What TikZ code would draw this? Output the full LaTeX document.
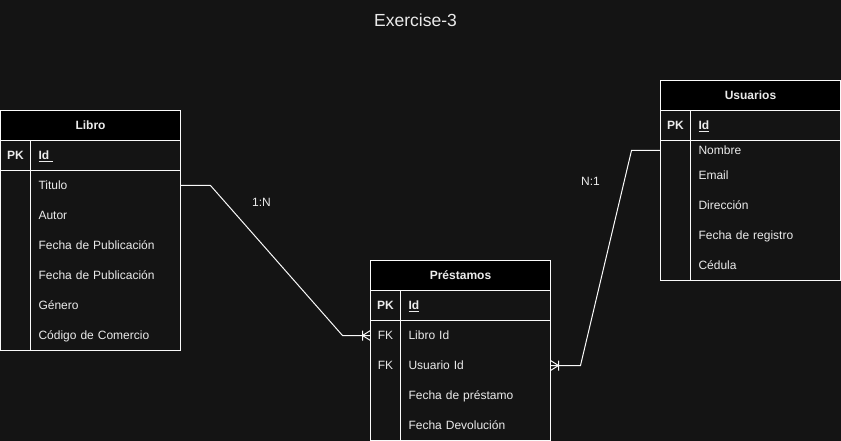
\documentclass[tikz,border=0pt]{standalone}
\usepackage{fontspec}
\setmainfont{Liberation Sans}
\usetikzlibrary{positioning}

% crow's foot tip (one or many)
\pgfdeclarearrow{
  name = Crow,
  setup code = {
    \pgfarrowssettipend{0pt}
    \pgfarrowssetlineend{0pt}
    \pgfarrowssetvisualbackend{-8pt}
    \pgfarrowssetbackend{-8.5pt}
    \pgfarrowsupperhullpoint{0pt}{5pt}
    \pgfarrowsupperhullpoint{-8.5pt}{5pt}
  },
  drawing code = {
    \pgfpathmoveto{\pgfqpoint{0pt}{5pt}}
    \pgfpathlineto{\pgfqpoint{-8pt}{0pt}}
    \pgfpathlineto{\pgfqpoint{0pt}{-5pt}}
    \pgfpathmoveto{\pgfqpoint{-8pt}{5pt}}
    \pgfpathlineto{\pgfqpoint{-8pt}{-5pt}}
    \pgfusepathqstroke
  }
}

\definecolor{bg}{RGB}{20,20,20}
\definecolor{fg}{RGB}{235,235,235}
\definecolor{edge}{RGB}{250,250,250}

\begin{document}
\begin{tikzpicture}[x=1pt, y=-1pt, line width=1pt,
  every node/.style={font=\fontsize{12}{14}\selectfont, text=fg, outer sep=0pt},
  head/.style={draw=edge, fill=black, minimum width=180pt, minimum height=30pt,
    inner sep=0pt, text height=8.6pt, text depth=0pt,
    font=\fontsize{12}{14}\selectfont\bfseries},
  keycell/.style={minimum width=30pt, minimum height=30pt, inner sep=0pt,
    text height=8.6pt, text depth=0pt},
  field/.style={minimum height=30pt, inner xsep=8pt, inner ysep=0pt,
    text width=134pt, align=left, text height=8.6pt, text depth=0pt},
  edgeline/.style={draw=edge},
  link/.style={draw=edge, line width=1pt}]

  % canvas
  \fill[bg] (-0.5,-0.5) rectangle (840.5,440.5);
  \useasboundingbox (-0.5,-0.5) rectangle (840.5,440.5);

  % title
  \node[font=\fontsize{17.5}{20}\selectfont] (title) at (415,19.5) {Exercise-3};

  % Libro table
  \node[head] (libro) at (90,125) {Libro};
  \node[keycell, anchor=north west, font=\fontsize{12}{14}\selectfont\bfseries] (l-pk) at (libro.south west) {PK};
  \node[field, right=0pt of l-pk, font=\fontsize{12}{14}\selectfont\bfseries] (l-id) {\underline{Id\ }};
  \node[keycell, below=0pt of l-pk] (l-k1) {};
  \node[field, right=0pt of l-k1] (l-titulo) {Titulo};
  \node[keycell, below=0pt of l-k1] (l-k2) {};
  \node[field, right=0pt of l-k2] (l-autor) {Autor};
  \node[keycell, below=0pt of l-k2] (l-k3) {};
  \node[field, right=0pt of l-k3] (l-fecha1) {Fecha de Publicación};
  \node[keycell, below=0pt of l-k3] (l-k4) {};
  \node[field, right=0pt of l-k4] (l-fecha2) {Fecha de Publicación};
  \node[keycell, below=0pt of l-k4] (l-k5) {};
  \node[field, right=0pt of l-k5] (l-genero) {Género};
  \node[keycell, below=0pt of l-k5] (l-k6) {};
  \node[field, right=0pt of l-k6] (l-codigo) {Código de Comercio};
  \draw[edgeline] (libro.south west) rectangle (l-codigo.south east);
  \draw[edgeline] (l-pk.south west) -- (l-id.south east);
  \draw[edgeline] (l-pk.north east) -- (l-k6.south east);

  % Préstamos table
  \node[head] (prestamos) at (460,275) {Préstamos};
  \node[keycell, anchor=north west, font=\fontsize{12}{14}\selectfont\bfseries] (p-pk) at (prestamos.south west) {PK};
  \node[field, right=0pt of p-pk, font=\fontsize{12}{14}\selectfont\bfseries] (p-id) {\underline{Id}};
  \node[keycell, below=0pt of p-pk] (p-k1) {FK};
  \node[field, right=0pt of p-k1] (p-libro) {Libro Id};
  \node[keycell, below=0pt of p-k1] (p-k2) {FK};
  \node[field, right=0pt of p-k2] (p-usuario) {Usuario Id};
  \node[keycell, below=0pt of p-k2] (p-k3) {};
  \node[field, right=0pt of p-k3] (p-fecha) {Fecha de préstamo};
  \node[keycell, below=0pt of p-k3] (p-k4) {};
  \node[field, right=0pt of p-k4] (p-devol) {Fecha Devolución};
  \draw[edgeline] (prestamos.south west) rectangle (p-devol.south east);
  \draw[edgeline] (p-pk.south west) -- (p-id.south east);
  \draw[edgeline] (p-pk.north east) -- (p-k4.south east);

  % Usuarios table
  \node[head] (usuarios) at (750,95) {Usuarios};
  \node[keycell, anchor=north west, font=\fontsize{12}{14}\selectfont\bfseries] (u-pk) at (usuarios.south west) {PK};
  \node[field, right=0pt of u-pk, font=\fontsize{12}{14}\selectfont\bfseries] (u-id) {\underline{Id}};
  \node[keycell, below=0pt of u-pk, minimum height=20pt] (u-k1) {};
  \node[field, right=0pt of u-k1, minimum height=20pt] (u-nombre) {Nombre};
  \node[keycell, below=0pt of u-k1] (u-k2) {};
  \node[field, right=0pt of u-k2] (u-email) {Email};
  \node[keycell, below=0pt of u-k2] (u-k3) {};
  \node[field, right=0pt of u-k3] (u-direccion) {Dirección};
  \node[keycell, below=0pt of u-k3] (u-k4) {};
  \node[field, right=0pt of u-k4] (u-registro) {Fecha de registro};
  \node[keycell, below=0pt of u-k4] (u-k5) {};
  \node[field, right=0pt of u-k5] (u-cedula) {Cédula};
  \draw[edgeline] (usuarios.south west) rectangle (u-cedula.south east);
  \draw[edgeline] (u-pk.south west) -- (u-id.south east);
  \draw[edgeline] (u-pk.north east) -- (u-k5.south east);

  % relations
  \draw[link, -Crow] (l-titulo.east) -- ++(30,0) -- ++(132,150) -- (p-k1.west);
  \draw[link, -Crow] (u-k1.west) -- ++(-29,0) -- ++(-51,215) -- (p-usuario.east);

  % cardinality labels
  \node (lbl-libro) at (261,202) {1:N};
  \node (lbl-usuario) at (590,181) {N:1};

\end{tikzpicture}
\end{document}
